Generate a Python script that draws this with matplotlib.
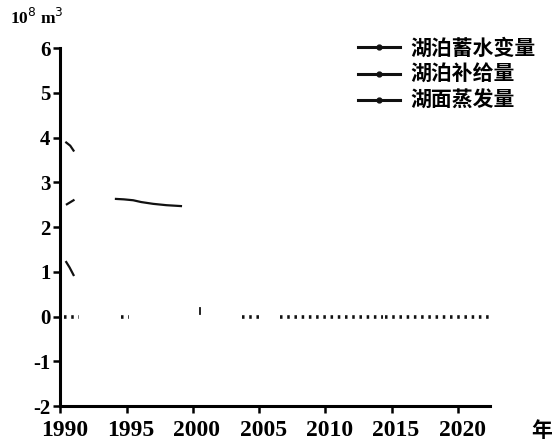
import numpy as np
import matplotlib.pyplot as plt
import matplotlib.transforms as mtransforms
from matplotlib.lines import Line2D

plt.rcParams['font.family'] = ['Liberation Serif', 'Noto Sans CJK SC']
plt.rcParams['axes.unicode_minus'] = False

nan = np.nan

# fragments that survive in the scanned figure (10^8 m^3)
supply_years = [1990.45, 1990.75, 1991.0, nan, 1994.2, 1994.8, 1995.5, 1996.1, 1997.0, 1998.0, 1999.1]
supply_vals = [3.89, 3.82, 3.71, nan, 2.63, 2.62, 2.6, 2.56, 2.52, 2.49, 2.47]

evap_years = [1990.5, 1991.0, nan, 1990.45, 1990.7, 1991.0]
evap_vals = [2.51, 2.6, nan, 1.22, 1.1, 0.93]

storage_years = [1990.3, 1991.4, nan, 1994.6, 1995.2, nan, 2003.7, 2005.3, nan, 2006.6, 2014.3, nan, 2014.5, 2022.4]
storage_vals = [0, 0, nan, 0, 0, nan, 0, 0, nan, 0, 0, nan, 0, 0]

mark_year = [2000.5, 2000.5]
mark_vals = [0.05, 0.2]

legend_labels = ['湖泊蓄水变量', '湖泊补给量', '湖面蒸发量']
xticks = [1990, 1995, 2000, 2005, 2010, 2015, 2020]
yticks = [-2, -1, 0, 1, 2, 3, 4, 5, 6]

fig = plt.figure(figsize=(5.58, 4.41), dpi=100)
ax = fig.add_axes([0.108, 0.079, 0.770, 0.812])

ax.plot(supply_years, supply_vals, color='#111111', lw=1.6)
ax.plot(evap_years, evap_vals, color='#111111', lw=1.6)
ax.plot(storage_years, storage_vals, color='#111111', lw=2.6, linestyle=(0, (0.7, 1.3)))
ax.plot(mark_year, mark_vals, color='#111111', lw=1.3)

ax.set_xlim(1990, 2022.4)
ax.set_ylim(-2, 6)
ax.set_xticks(xticks)
ax.set_yticks(yticks)
for s in ['top', 'right']:
    ax.spines[s].set_visible(False)
for s in ['left', 'bottom']:
    ax.spines[s].set_linewidth(2.2)
ax.tick_params(axis='both', direction='out', length=5, width=1.8, pad=2)
ax.tick_params(axis='y', labelsize=15)
ax.tick_params(axis='x', labelsize=17, pad=5)
shift = mtransforms.ScaledTranslation(4 / 100, 0, fig.dpi_scale_trans)
for lab in ax.get_xticklabels():
    lab.set_fontweight('bold')
    lab.set_transform(lab.get_transform() + shift)
for lab in ax.get_yticklabels():
    lab.set_fontweight('bold')

fig.text(0.018, 0.945, '10$^{8}$ m$^{3}$', fontsize=12.5, fontweight='bold')
fig.text(0.952, 0.01, '年', fontsize=15, fontweight='bold')

handles = [Line2D([], [], color='#111111', lw=2.2, marker='o', markersize=3.5) for _ in legend_labels]
ax.legend(handles, legend_labels, loc='upper left', bbox_to_anchor=(358 / 558, 1 - 39 / 441),
          bbox_transform=fig.transFigure, frameon=False, borderpad=0, borderaxespad=0,
          handlelength=2.0, handletextpad=0.5, labelspacing=0.3, prop={'size': 15, 'weight': 'bold'})

fig.savefig('out.png', dpi=100)
